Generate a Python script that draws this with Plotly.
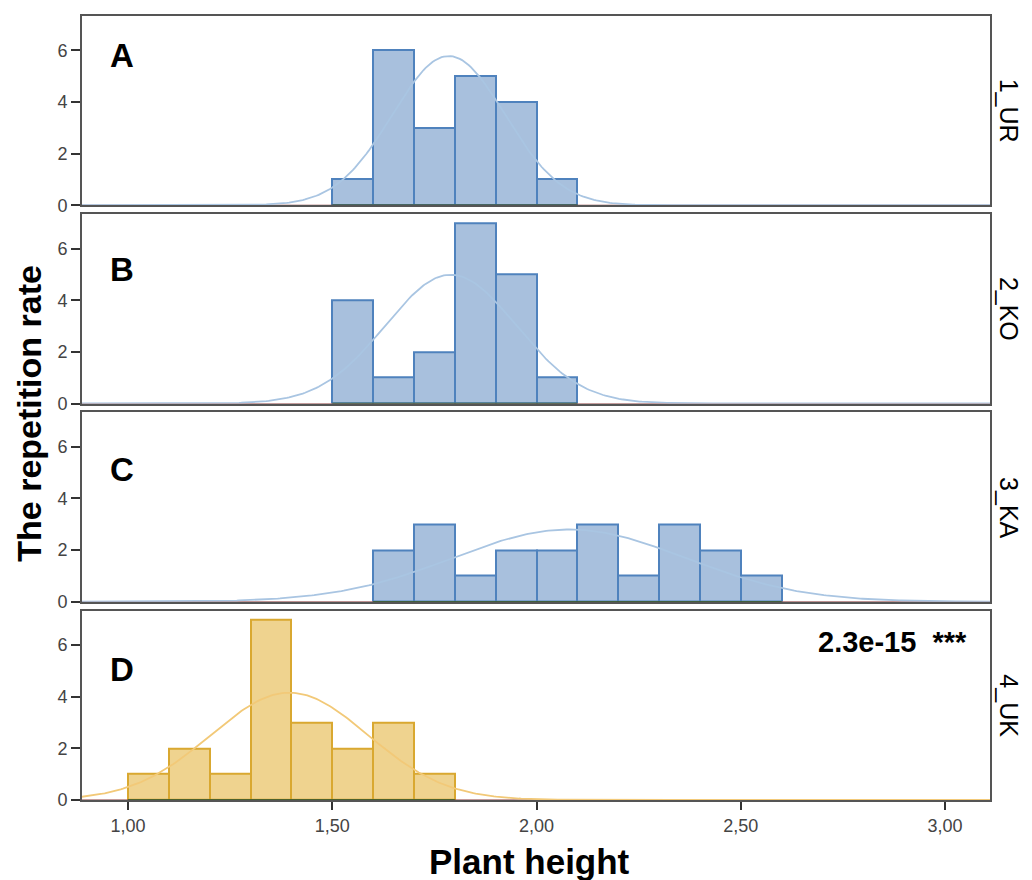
import numpy as np
import plotly.graph_objects as go
from plotly.subplots import make_subplots

# ---- data ----
groups = ["1_UR", "2_KO", "3_KA", "4_UK"]
letters = ["A", "B", "C", "D"]
bin_width = 0.1

bins_A = [1.5, 1.6, 1.7, 1.8, 1.9, 2.0]
counts_A = [1, 6, 3, 5, 4, 1]
bins_B = [1.5, 1.6, 1.7, 1.8, 1.9, 2.0]
counts_B = [4, 1, 2, 7, 5, 1]
bins_C = [1.6, 1.7, 1.8, 1.9, 2.0, 2.1, 2.2, 2.3, 2.4, 2.5]
counts_C = [2, 3, 1, 2, 2, 3, 1, 3, 2, 1]
bins_D = [1.0, 1.1, 1.2, 1.3, 1.4, 1.5, 1.6, 1.7]
counts_D = [1, 2, 1, 7, 3, 2, 3, 1]

# normal-curve parameters (mean, sd) estimated from the curves
means = [1.785, 1.79, 2.08, 1.395]
sds = [0.138, 0.16, 0.285, 0.192]

x_ticks = [1.0, 1.5, 2.0, 2.5, 3.0]
x_tick_labels = ["1,00", "1,50", "2,00", "2,50", "3,00"]
y_ticks = [0, 2, 4, 6]
p_text = "2.3e-15&nbsp;&nbsp;***"

bins_all = [bins_A, bins_B, bins_C, bins_D]
counts_all = [counts_A, counts_B, counts_C, counts_D]

# ---- styling ----
fill_colors = ["#a8c0dd", "#a8c0dd", "#a8c0dd", "#efd38f"]
edge_colors = ["#4f82bd", "#4f82bd", "#4f82bd", "#d9a830"]
curve_colors = ["#a9c5e2", "#a9c5e2", "#a9c5e2", "#f2c978"]
letter_y = [0.79, 0.71, 0.70, 0.69]
FONT = "Liberation Sans, Arial"

X_MIN, X_MAX = 0.8875, 3.11
Y_MAX = 7.33

fig = make_subplots(rows=4, cols=1, shared_xaxes=True, vertical_spacing=9 / 786)

xs = np.linspace(X_MIN, X_MAX, 400)
for i in range(4):
    r = i + 1
    b = np.array(bins_all[i])
    c = np.array(counts_all[i])
    n = c.sum()
    fig.add_trace(go.Scatter(x=[X_MIN, X_MAX], y=[0, 0], mode="lines",
                             line=dict(color="#8a3b3b", width=1.2),
                             hoverinfo="skip", showlegend=False), row=r, col=1)
    fig.add_trace(go.Bar(x=b + bin_width / 2, y=c, width=bin_width,
                         marker=dict(color=fill_colors[i],
                                     line=dict(color=edge_colors[i], width=2)),
                         showlegend=False), row=r, col=1)
    fig.add_trace(go.Scatter(x=[b.min(), b.max() + bin_width], y=[0, 0], mode="lines",
                             line=dict(color="#2e5e2a", width=1.5),
                             hoverinfo="skip", showlegend=False), row=r, col=1)
    ys = n * bin_width / (sds[i] * np.sqrt(2 * np.pi)) * np.exp(-0.5 * ((xs - means[i]) / sds[i]) ** 2)
    fig.add_trace(go.Scatter(x=xs, y=ys, mode="lines",
                             line=dict(color=curve_colors[i], width=1.8),
                             hoverinfo="skip", showlegend=False), row=r, col=1)

    fig.update_yaxes(row=r, col=1, range=[0, Y_MAX], tickvals=y_ticks,
                     ticks="outside", ticklen=9, tickwidth=2, tickcolor="#333",
                     showgrid=False, zeroline=False,
                     showline=True, linecolor="#555", linewidth=2, mirror=True,
                     tickfont=dict(family=FONT, size=18, color="#444"))
    fig.update_xaxes(row=r, col=1, range=[X_MIN, X_MAX], tickvals=x_ticks,
                     ticktext=x_tick_labels, showgrid=False, zeroline=False,
                     showline=True, linecolor="#555", linewidth=2, mirror=True,
                     ticks="outside" if r == 4 else "", ticklen=8, tickwidth=2,
                     tickcolor="#333", showticklabels=(r == 4),
                     tickfont=dict(family=FONT, size=18, color="#444"))

    yref = "y domain" if r == 1 else f"y{r} domain"
    xref = "x domain" if r == 1 else f"x{r} domain"
    fig.add_annotation(x=0.044, y=letter_y[i], xref=xref, yref=yref, text=f"<b>{letters[i]}</b>",
                       showarrow=False, xanchor="center", yanchor="middle",
                       font=dict(family=FONT, size=33, color="black"))
    fig.add_annotation(x=1.0, xshift=19, y=0.5, xref=xref, yref=yref, text=groups[i],
                       showarrow=False, textangle=90, xanchor="center", yanchor="middle",
                       font=dict(family=FONT, size=25, color="black"))

fig.add_annotation(x=0.977, y=0.835, xref="x4 domain", yref="y4 domain", text=f"<b>{p_text}</b>",
                   showarrow=False, xanchor="right", yanchor="middle",
                   font=dict(family=FONT, size=29, color="black"))

fig.add_annotation(x=-0.0584, y=0.494, xref="paper", yref="paper", text="<b>The repetition rate</b>",
                   showarrow=False, textangle=-90, xanchor="center", yanchor="middle",
                   font=dict(family=FONT, size=34, color="black"))
fig.add_annotation(x=0.493, y=-0.079, xref="paper", yref="paper", text="<b>Plant height</b>",
                   showarrow=False, xanchor="center", yanchor="middle",
                   font=dict(family=FONT, size=35, color="black"))

fig.update_layout(width=1024, height=872, margin=dict(l=74, r=42, t=6, b=80),
                  plot_bgcolor="white", paper_bgcolor="white", bargap=0)

fig.write_html("out.html")
